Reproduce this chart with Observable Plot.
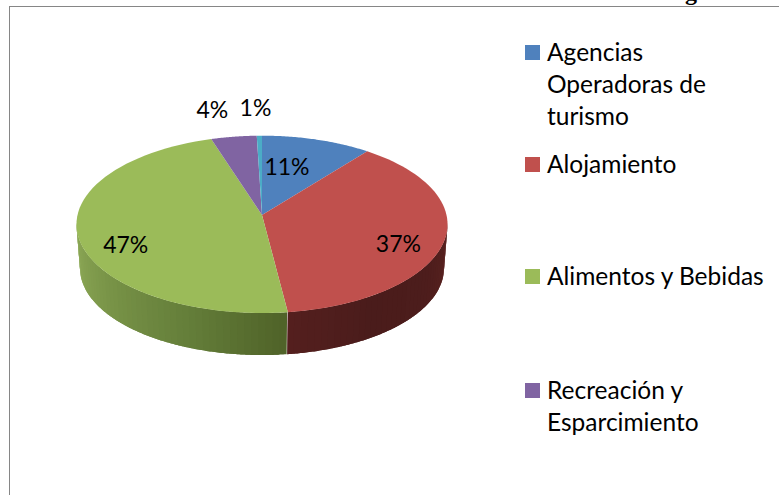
<!DOCTYPE html>
<html><head><meta charset="utf-8">
<script src="https://cdn.jsdelivr.net/npm/d3@7"></script>
<script src="https://cdn.jsdelivr.net/npm/@observablehq/plot@0.6"></script>
<style>
html,body{margin:0;padding:0;background:#fff;overflow:hidden}
#page{position:relative;width:779px;height:495px;overflow:hidden;font-family:Lato,sans-serif;color:#000}
#page svg{position:absolute;left:0;top:0;background:transparent}
#frame{position:absolute;left:9px;top:6px;width:800px;height:600px;border:1.5px solid #868686;box-sizing:border-box}
#clipped{position:absolute;left:685px;top:-21px;font:bold 24px "Liberation Serif",serif}
.item{position:absolute;left:525px;display:flex;font-size:24.5px;line-height:32px}
.item i{display:block;flex:none;width:15px;height:15px;margin:9px 7px 0 0}
</style></head><body><div id="page"><div id="frame"></div><div id="clipped">g</div></div>
<script>
const categories = ["Agencias Operadoras de turismo","Alojamiento","Alimentos y Bebidas","Recreación y Esparcimiento","Otros"];
const shares = [10.6,37.4,47.1,4.4,0.5];
const colors = ["#4f81bd","#c0504d","#9bbb59","#8064a2","#4bacc6"];
const legendLines = [["Agencias","Operadoras de","turismo"],["Alojamiento"],["Alimentos y Bebidas"],["Recreación y","Esparcimiento"]];
const legendTops = [36,148,260,374];
const labelReach = [0.6,0.78,0.79,1.40,1.40];
const labelTurn = [-5.5,8.7,-12.7,-3.1,-0.9];
const wallStops = {1:["#5c2321","#4d1d1c","#4a1c1b","#541f1e"],2:["#8fab58","#7b9649","#66803b","#4f6228"]};

// tilted disk: a point of the unit circle, projected with perspective
const tilt = 0.1055, wallScale = 0.981, wallDrop = 0.5;
const project = (deg,r=1) => {
  const a = deg*Math.PI/180, px = r*Math.sin(a), py = -r*Math.cos(a), w = 1-tilt*py;
  return [px/w, py/w];
};
const total = d3.sum(shares);
let run = 0;
const slices = shares.map((v,i)=>{const a0=run/total*360; run+=v; return {i,a0,a1:run/total*360,v};});

// top face: fan from the apex to the rim
const face = slices.flatMap(s=>d3.range(0,61).map(k=>{
  const [x,y]=project(s.a0+(s.a1-s.a0)*k/60);
  return {cat:categories[s.i],x,y,z:s.i};
}));

// front wall: overlapping strips, each with fine rim steps, shaded along the visible rim
const wallFrom = 95, wallTo = 265, wallN = 85;
const seam = slices[1].a1;
const step = (wallTo-wallFrom)/wallN;
const wall = d3.range(wallN).flatMap(k=>{
  const a0=wallFrom+step*k, am=a0+step/2;
  const s=slices.find(t=>am>=t.a0&&am<t.a1);
  const lo=Math.max(wallFrom,s.a0), hi=Math.min(wallTo,s.a1);
  const tt=(am-lo)/(hi-lo);
  const t2=s.i===2?1-tt:tt;
  const col=d3.piecewise(d3.interpolateRgb,wallStops[s.i])(t2);
  // strips overlap the next one, but never across the seam between two slices
  const end=k===wallN-1?a0+step:a0+step*2;
  const stop=(a0<seam&&end>seam)?seam:end;
  return d3.range(0,9).map(j=>{
    const a=a0+(stop-a0)*j/8;
    const [x,y]=project(a);
    return {x1:x,y1:y,x2:x*wallScale,y2:y*wallScale+wallDrop,z:k,col};
  });
});

const labels = slices.map(s=>{
  const [x,y]=project((s.a0+s.a1)/2+labelTurn[s.i],labelReach[s.i]);
  return {x,y,text:Math.round(s.v)+"%"};
});

const chart = Plot.plot({
  width:779,height:495,margin:0,
  style:{background:"transparent",overflow:"visible"},
  x:{axis:null,domain:[-1,1],range:[262-184.5,262+184.5]},
  y:{axis:null,domain:[-1,1],range:[215-87.7,215+87.7]},
  color:{domain:categories,range:colors},
  marks:[
    Plot.area(wall,{x1:"x1",y1:"y1",x2:"x2",y2:"y2",z:"z",fill:"col",curve:"linear"}),
    Plot.area(face,{x1:()=>0,y1:()=>0,x2:"x",y2:"y",z:"z",fill:"cat",curve:"linear"}),
    Plot.text(labels,{x:"x",y:"y",text:"text",fontSize:23,fontFamily:"Lato, sans-serif",fill:"#000"})
  ]
});
document.getElementById("page").appendChild(chart);

legendLines.forEach((lines,i)=>{
  const el=document.createElement("div");
  el.className="item"; el.style.top=legendTops[i]+"px";
  const sw=document.createElement("i"); sw.style.background=colors[i]; el.appendChild(sw);
  const t=document.createElement("div"); t.innerHTML=lines.join("<br>"); el.appendChild(t);
  document.getElementById("page").appendChild(el);
});
</script></body></html>
